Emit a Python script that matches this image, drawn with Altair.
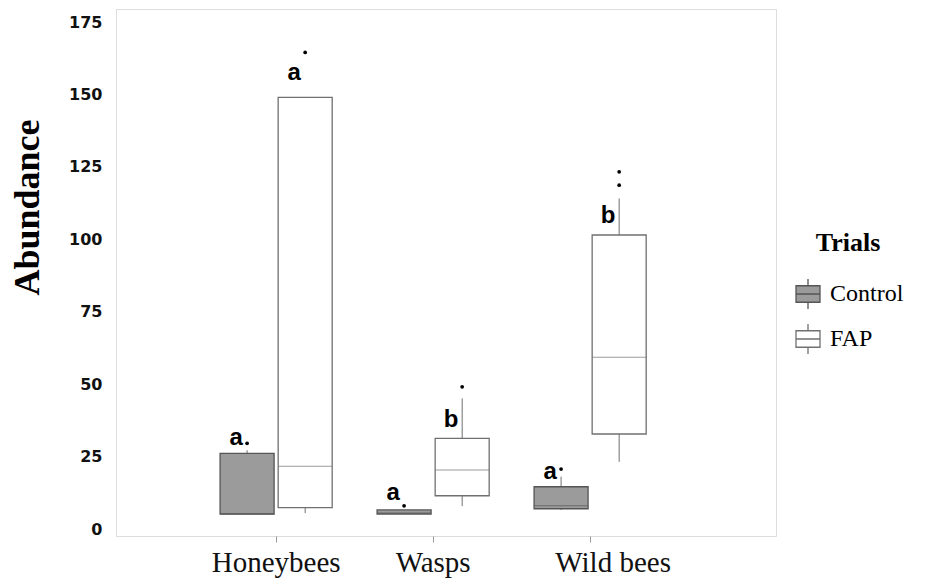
import altair as alt
import pandas as pd

groups = ["Honeybees", "Wasps", "Wild bees"]
trials = ["Control", "FAP"]

# Box summaries
box_group = ["Honeybees", "Honeybees", "Wasps", "Wasps", "Wild bees", "Wild bees"]
box_trial = ["Control", "FAP", "Control", "FAP", "Control", "FAP"]
whisk_lo = [5.2, 5.5, 5.2, 7.9, 6.6, 23.2]
q1 = [5.2, 7.4, 5.2, 11.5, 7.0, 32.8]
median = [5.2, 21.7, 5.5, 20.4, 8.0, 59.3]
q3 = [26.1, 149.0, 6.6, 31.3, 14.6, 101.5]
whisk_hi = [27.2, 149.0, 6.6, 45.1, 18.1, 114.1]

# Outliers
out_group = ["Honeybees", "Honeybees", "Wasps", "Wasps", "Wild bees", "Wild bees", "Wild bees"]
out_trial = ["Control", "FAP", "Control", "FAP", "Control", "FAP", "FAP"]
out_value = [29.6, 164.5, 8.0, 49.1, 20.7, 118.7, 123.3]

# Significance letters
lab_group = box_group
lab_trial = box_trial
lab_text = ["a", "a", "a", "b", "a", "b"]
lab_value = [29.0, 155.0, 10.0, 35.3, 17.2, 105.5]

y_ticks = [0, 25, 50, 75, 100, 125, 150, 175]

boxes = pd.DataFrame({"group": box_group, "trial": box_trial, "lo": whisk_lo,
                      "q1": q1, "med": median, "q3": q3, "hi": whisk_hi})
outs = pd.DataFrame({"group": out_group, "trial": out_trial, "value": out_value})
labs = pd.DataFrame({"group": lab_group, "trial": lab_trial, "text": lab_text, "value": lab_value})

xenc = alt.X("group:N", sort=groups,
             scale=alt.Scale(domain=groups, paddingInner=0.26, paddingOuter=0.732, align=0.444),
             axis=alt.Axis(title=None, labelFont="Liberation Serif", labelFontSize=29,
                           labelColor="#111111", labelAngle=0, labelPadding=6,
                           tickSize=6, tickColor="#999999", tickWidth=1, domain=False,
                           labelOffset={"condition": {"test": "datum.label === 'Wild bees'", "value": 23}, "value": 0}))
xoff = alt.XOffset("trial:N", sort=trials,
                   scale=alt.Scale(domain=trials, paddingInner=0.07, paddingOuter=0.035))
yscale = alt.Scale(domain=[-2.4, 179.5], nice=False, zero=False)
yaxis = alt.Axis(values=y_ticks, title="Abundance", titleFont="Liberation Serif",
                 titleFontSize=36, titleFontWeight="bold", titleColor="black",
                 titleX=-89, titleY=198, titleAngle=270, titleAlign="center", titleBaseline="middle",
                 labelFont="DejaVu Sans", labelFontWeight="bold", labelFontSize=16,
                 labelColor="#111111", ticks=False, tickSize=0, domain=False, grid=False,
                 labelPadding=14)

legend_path = "M-0.8,-0.55H0.8V0.55H-0.8Z M-0.8,0H0.8 M0,-0.55V-1 M0,0.55V1"

base = alt.Chart(boxes)

whisk_low = base.mark_rule(color="#707070", strokeWidth=1).encode(
    x=xenc, xOffset=xoff,
    y=alt.Y("lo:Q", scale=yscale, axis=yaxis), y2="q1:Q")
whisk_high = base.mark_rule(color="#707070", strokeWidth=1).encode(
    x=xenc, xOffset=xoff, y=alt.Y("q3:Q", scale=yscale), y2="hi:Q")

bars = base.mark_bar(strokeWidth=1.3).encode(
    x=xenc, xOffset=xoff,
    y=alt.Y("q1:Q", scale=yscale), y2="q3:Q",
    fill=alt.Fill("trial:N", sort=trials,
                  scale=alt.Scale(domain=trials, range=["#9b9b9b", "#ffffff"]),
                  legend=alt.Legend(title="Trials", orient="none", legendX=676, legendY=221,
                                    titleFont="Liberation Serif", titleFontSize=26,
                                    titleFontWeight="bold", titleColor="black",
                                    titleAnchor="middle", titlePadding=22,
                                    labelFont="Liberation Serif", labelFontSize=24,
                                    labelColor="black", labelOffset=6,
                                    symbolType=legend_path, symbolSize=900,
                                    symbolStrokeColor="#222222", symbolStrokeWidth=1.3,
                                    symbolOpacity=1, rowPadding=9, padding=0)),
    stroke=alt.Stroke("trial:N", sort=trials,
                      scale=alt.Scale(domain=trials, range=["#555555", "#707070"]),
                      legend=None))

meds = base.mark_tick(size=54, thickness=1).encode(
    x=xenc, xOffset=xoff, y=alt.Y("med:Q", scale=yscale),
    color=alt.Color("trial:N", sort=trials,
                    scale=alt.Scale(domain=trials, range=["#555555", "#707070"]),
                    legend=None))

points = alt.Chart(outs).mark_circle(size=14, color="black", opacity=1).encode(
    x=xenc, xOffset=xoff, y=alt.Y("value:Q", scale=yscale))

letters = alt.Chart(labs).mark_text(font="Liberation Sans", fontWeight="bold",
                                    fontSize=24, baseline="alphabetic", align="center",
                                    dx=-11, color="black").encode(
    x=xenc, xOffset=xoff, y=alt.Y("value:Q", scale=yscale), text="text:N")

chart = alt.layer(whisk_low, whisk_high, bars, meds, points, letters).properties(
    width=660, height=527,
    autosize=alt.AutoSizeParams(type="none"),
    padding={"left": 108, "top": 1, "right": 140, "bottom": 48},
).configure_view(stroke="#8c8c8c", strokeWidth=1.5).configure(background="white")

chart.save("out.html", embed_options={"renderer": "svg", "actions": False})
